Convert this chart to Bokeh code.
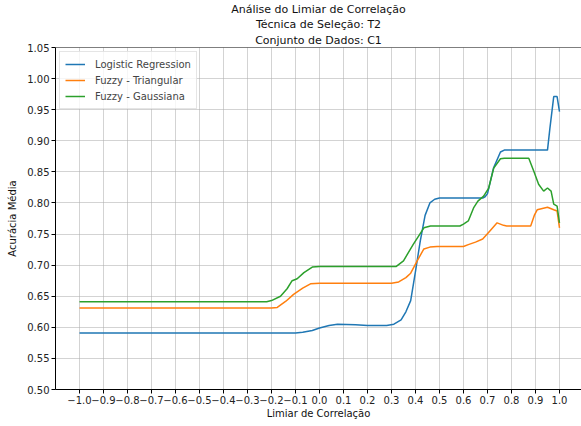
from bokeh.plotting import figure
from bokeh.models import Title, FixedTicker, PrintfTickFormatter, Legend, LegendItem, Range1d, Span
from bokeh.embed import file_html
from bokeh.resources import INLINE

# ---- data ----
lr_x = [-1.0, -0.1, -0.07, -0.03, 0.0, 0.04, 0.075, 0.15, 0.2, 0.28, 0.31, 0.34, 0.36, 0.38,
        0.40, 0.42, 0.44, 0.46, 0.48, 0.5, 0.68, 0.69, 0.70, 0.725, 0.754, 0.77, 0.95, 0.96,
        0.976, 0.99, 1.0]
lr_y = [0.591, 0.591, 0.592, 0.595, 0.599, 0.603, 0.605, 0.604, 0.603, 0.603, 0.605, 0.612,
        0.625, 0.643, 0.690, 0.739, 0.780, 0.800, 0.806, 0.808, 0.808, 0.810, 0.815, 0.856,
        0.882, 0.885, 0.885, 0.920, 0.971, 0.971, 0.947]

tri_x = [-1.0, -0.2, -0.176, -0.14, -0.108, -0.07, -0.0375, 0.0, 0.3, 0.33, 0.36, 0.38, 0.407,
         0.435, 0.46, 0.49, 0.6, 0.62, 0.65, 0.68, 0.71, 0.74, 0.767, 0.78, 0.88, 0.895, 0.907,
         0.95, 0.976, 0.99, 1.0]
tri_y = [0.631, 0.631, 0.632, 0.642, 0.653, 0.663, 0.670, 0.671, 0.671, 0.673, 0.680, 0.687,
         0.707, 0.726, 0.729, 0.730, 0.730, 0.733, 0.737, 0.742, 0.755, 0.768, 0.764, 0.763,
         0.763, 0.780, 0.789, 0.793, 0.789, 0.787, 0.760]

gau_x = [-1.0, -0.22, -0.2, -0.1625, -0.135, -0.114, -0.093, -0.065, -0.03, 0.0, 0.32, 0.35,
         0.39, 0.435, 0.4625, 0.585, 0.6, 0.62, 0.642, 0.66, 0.684, 0.705, 0.726, 0.754, 0.77,
         0.872, 0.893, 0.913, 0.934, 0.95, 0.965, 0.976, 0.99, 1.0]
gau_y = [0.641, 0.641, 0.643, 0.650, 0.662, 0.675, 0.678, 0.688, 0.697, 0.698, 0.698, 0.707,
         0.733, 0.760, 0.763, 0.763, 0.766, 0.771, 0.792, 0.803, 0.811, 0.824, 0.856, 0.871,
         0.872, 0.872, 0.851, 0.830, 0.819, 0.824, 0.819, 0.798, 0.795, 0.768]

series_names = ["Logistic Regression", "Fuzzy - Triangular", "Fuzzy - Gaussiana"]
x_tick_values = [round(-1.0 + 0.1 * i, 1) for i in range(21)]
x_tick_labels = ["\u22121.0", "\u22120.9", "\u22120.8", "\u22120.7", "\u22120.6", "\u22120.5",
                 "\u22120.4", "\u22120.3", "\u22120.2", "\u22120.1", "0.0", "0.1", "0.2", "0.3",
                 "0.4", "0.5", "0.6", "0.7", "0.8", "0.9", "1.0"]
y_tick_values = [0.50, 0.55, 0.60, 0.65, 0.70, 0.75, 0.80, 0.85, 0.90, 0.95, 1.00, 1.05]

title_lines = ["Análise do Limiar de Correlação", "Técnica de Seleção: T2", "Conjunto de Dados: C1"]

FONT = "DejaVu Sans"

p = figure(width=581, height=426, output_backend="svg", toolbar_location=None,
           x_range=Range1d(-1.1, 1.0917), y_range=Range1d(0.5, 1.05),
           min_border_left=55, min_border_right=0, min_border_top=45, min_border_bottom=37,
           title=None)

# closest to the plot first
for i, t in enumerate([title_lines[2], title_lines[1], title_lines[0]]):
    p.add_layout(Title(text=t, align="center", text_font=FONT, text_font_size="11px",
                       text_font_style="normal", text_color="#111111",
                       standoff=2 if i == 0 else 0, offset=0), "above")

colors = ["#1f77b4", "#ff7f0e", "#2ca02c"]
r1 = p.line(lr_x, lr_y, line_color=colors[0], line_width=1.5)
r2 = p.line(tri_x, tri_y, line_color=colors[1], line_width=1.5)
r3 = p.line(gau_x, gau_y, line_color=colors[2], line_width=1.5)

legend = Legend(items=[LegendItem(label=series_names[0], renderers=[r1]),
                       LegendItem(label=series_names[1], renderers=[r2]),
                       LegendItem(label=series_names[2], renderers=[r3])],
                location="top_left", margin=4, padding=5, spacing=2,
                label_height=14, glyph_height=14, glyph_width=20, label_standoff=10,
                label_text_font=FONT, label_text_font_size="10px",
                border_line_color="#cccccc", border_line_width=1,
                background_fill_alpha=0.8)
p.add_layout(legend)

p.xaxis.ticker = FixedTicker(ticks=x_tick_values)
p.xaxis.major_label_overrides = {v: l for v, l in zip(x_tick_values, x_tick_labels)}
p.yaxis.ticker = FixedTicker(ticks=y_tick_values)
p.yaxis.formatter = PrintfTickFormatter(format="%.2f")

for ax in [p.xaxis[0], p.yaxis[0]]:
    ax.major_label_text_font = FONT
    ax.major_label_text_font_size = "10px"
    ax.major_label_text_color = "#222222"
    ax.axis_label_text_font = FONT
    ax.axis_label_text_font_size = "10px"
    ax.axis_label_text_font_style = "normal"
    ax.axis_label_text_color = "#111111"
    ax.minor_tick_line_color = None
    ax.major_tick_out = 4
    ax.major_tick_in = 0
    ax.major_tick_line_color = "black"
    ax.axis_line_color = "black"
    ax.major_label_standoff = 2

p.xaxis.axis_label = "Limiar de Correlação"
p.yaxis.axis_label = "Acurácia Média"
p.xaxis.axis_label_standoff = 1
p.yaxis.axis_label_standoff = 6

p.grid.grid_line_color = "#b0b0b0"
p.grid.grid_line_alpha = 0.7
p.grid.grid_line_width = 0.8
p.outline_line_color = None

# top spine (the right spine lies outside the reference window)
p.add_layout(Span(location=1.05, dimension="width", line_color="black", line_width=1))

open("out.html", "w").write(file_html(p, INLINE))
